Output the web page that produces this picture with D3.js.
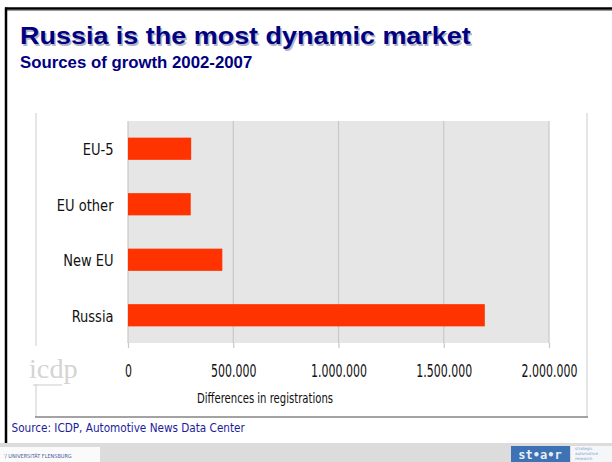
<!DOCTYPE html>
<html>
<head>
<meta charset="utf-8">
<script src="https://cdn.jsdelivr.net/npm/d3@7"></script>
<style>
	body { margin: 0; background: #fff; }
	svg { display: block; }
</style>
</head>
<body>
<div id="chart"></div>
<script>
const categories = ["EU-5", "EU other", "New EU", "Russia"];
const values = [300000, 298000, 448000, 1695000];
const tickValues = [0, 500000, 1000000, 1500000, 2000000];

const titleText = "Russia is the most dynamic market";
const subtitleText = "Sources of growth 2002-2007";
const axisTitle = "Differences in registrations";
const sourceText = "Source: ICDP, Automotive News Data Center";

const width = 612;
const height = 462;
const plot = {left: 128, right: 549, top: 121, bottom: 343};
const chartFont = "DejaVu Sans Condensed, sans-serif";

const svg = d3.select("#chart")
	.append("svg")
		.attr("width", width)
		.attr("height", height);

// text drawn with its own stretch, the slide fonts are distorted
function stretchText(parent, txt, x, y, {size, sx = 1, sy = 1, anchor = "start", family = chartFont, weight = "normal", fill = "#111"}){
	return parent.append("text")
		.attr("transform", `translate(${x}, ${y}) scale(${sx}, ${sy})`)
		.attr("text-anchor", anchor)
		.attr("font-family", family)
		.attr("font-weight", weight)
		.attr("font-size", size)
		.attr("fill", fill)
		.text(txt);
}

// slide frame
svg.append("rect")
	.attr("width", width).attr("height", height)
	.attr("fill", "#fff");
svg.append("line")
	.attr("x1", 5).attr("x2", width)
	.attr("y1", 10.5).attr("y2", 10.5)
	.attr("stroke", "#999").attr("stroke-width", 1);
svg.append("line")
	.attr("x1", 5).attr("x2", width)
	.attr("y1", 8.5).attr("y2", 8.5)
	.attr("stroke", "#000").attr("stroke-width", 2.5);
svg.append("line")
	.attr("x1", 6).attr("x2", 6)
	.attr("y1", 7.5).attr("y2", 443)
	.attr("stroke", "#000").attr("stroke-width", 2.5);

// titles
const titleFont = "Liberation Sans, Arial, sans-serif";
stretchText(svg, titleText, 21.5, 45.8, {size: 24.5, sx: 1.1, family: titleFont, weight: "bold", fill: "#b4b4c4"});
stretchText(svg, titleText, 20, 44.3, {size: 24.5, sx: 1.1, family: titleFont, weight: "bold", fill: "#000080"});
stretchText(svg, subtitleText, 20, 68.3, {size: 16, sx: 1.05, family: titleFont, weight: "bold", fill: "#000080"});

// chart frame
svg.append("line")
	.attr("x1", 36).attr("x2", 36).attr("y1", 113).attr("y2", 417)
	.attr("stroke", "#dcdcdc").attr("stroke-width", 1.5);
svg.append("line")
	.attr("x1", 587).attr("x2", 587).attr("y1", 113).attr("y2", 417)
	.attr("stroke", "#dcdcdc").attr("stroke-width", 1.5);
svg.append("line")
	.attr("x1", 35).attr("x2", 588).attr("y1", 417).attr("y2", 417)
	.attr("stroke", "#858585").attr("stroke-width", 1.5);

// icdp watermark
svg.append("rect")
	.attr("x", 27).attr("y", 346).attr("width", 56).attr("height", 38)
	.attr("fill", "#fff");
stretchText(svg, "icdp", 29, 378, {size: 27, sx: 1.05, family: "Liberation Serif, serif", fill: "#d4d4d4"});
svg.append("line")
	.attr("x1", 33).attr("x2", 62).attr("y1", 385).attr("y2", 385)
	.attr("stroke", "#d4d4d4").attr("stroke-width", 1.2);

// scales
const x = d3.scaleLinear()
	.domain([0, 2000000])
	.range([plot.left, plot.right]);

const y = d3.scaleBand()
	.domain(categories)
	.range([plot.top, plot.bottom])
	.paddingInner(0.6)
	.paddingOuter(0.3);

const locale = d3.formatLocale({decimal: ",", thousands: ".", grouping: [3], currency: ["", ""]});
const fmt = locale.format(",d");

// plot background
svg.append("rect")
	.attr("x", plot.left).attr("y", plot.top)
	.attr("width", plot.right - plot.left)
	.attr("height", plot.bottom - plot.top)
	.attr("fill", "#e6e6e6");

// gridlines
svg.append("g")
	.selectAll("line")
	.data(tickValues)
	.join("line")
		.attr("x1", d => x(d)).attr("x2", d => x(d))
		.attr("y1", plot.top).attr("y2", plot.bottom)
		.attr("stroke", "#c8c8c8").attr("stroke-width", 1.2);

// bottom axis
const xAxis = svg.append("g")
	.attr("transform", `translate(0, ${plot.bottom})`)
	.call(d3.axisBottom(x).tickValues(tickValues).tickFormat(fmt).tickSize(5));
xAxis.select(".domain").remove();
xAxis.selectAll(".tick line").attr("stroke", "#c8c8c8").attr("stroke-width", 1.2);
xAxis.selectAll(".tick text")
	.attr("y", null).attr("dy", null)
	.attr("transform", "translate(0, 33.7) scale(1, 1.46)")
	.attr("font-family", chartFont)
	.attr("font-size", 12.2)
	.attr("fill", "#111");

// left axis
const yAxis = svg.append("g")
	.attr("transform", `translate(${plot.left}, 0)`)
	.call(d3.axisLeft(y).tickSize(0));
yAxis.select(".domain").remove();
yAxis.selectAll(".tick text")
	.attr("x", null).attr("dy", null)
	.attr("transform", "translate(-14.5, 6.5) scale(1, 1.1)")
	.attr("font-family", chartFont)
	.attr("font-size", 14.5)
	.attr("fill", "#111");

// bars
svg.append("g")
	.selectAll("rect")
	.data(categories.map((c, i) => ({cat: c, value: values[i]})))
	.join("rect")
		.attr("x", x(0))
		.attr("y", d => y(d.cat))
		.attr("width", d => x(d.value) - x(0))
		.attr("height", y.bandwidth())
		.attr("fill", "#ff3300");

// axis title
stretchText(svg, axisTitle, 265, 403.3, {size: 11.2, sy: 1.22, anchor: "middle"});

// source line
stretchText(svg, sourceText, 11.5, 432.3, {size: 11.65, fill: "#1c1c9c"});

// footer band
svg.append("rect")
	.attr("x", 0).attr("y", 443)
	.attr("width", width).attr("height", height - 443)
	.attr("fill", "#dcdcdc");
svg.append("rect")
	.attr("x", 0).attr("y", 447)
	.attr("width", 100).attr("height", 15)
	.attr("fill", "#fafafa");
stretchText(svg, "\u2032/ UNIVERSITÄT FLENSBURG", 4, 458, {size: 5.5, fill: "#4a5a9a"});
svg.append("rect")
	.attr("x", 511).attr("y", 446)
	.attr("width", 59).attr("height", 16)
	.attr("fill", "#3d72b4");
stretchText(svg, "st\u2022a\u2022r", 540, 458.5, {size: 12, anchor: "middle", family: "DejaVu Sans Mono, monospace", weight: "bold", fill: "#e8eef8"});
svg.append("rect")
	.attr("x", 571).attr("y", 446)
	.attr("width", 41).attr("height", 16)
	.attr("fill", "#f4f6fa");
["strategic", "automotive", "research"].forEach((t, i) => {
	stretchText(svg, t, 575, 450 + i * 5, {size: 4, family: "DejaVu Sans, sans-serif", fill: "#7f9cc8"});
});
</script>
</body>
</html>
